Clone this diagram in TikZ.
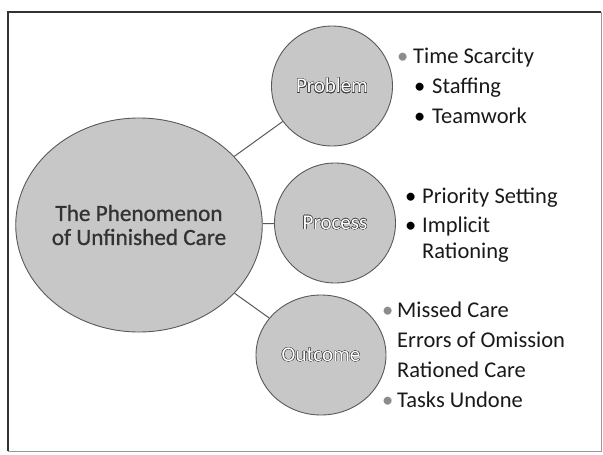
\documentclass[tikz,border=0pt]{standalone}
\usepackage{fontspec}
\setmainfont{Carlito}
\newfontface\hubfont{Carlito}[FakeBold=0.9]
\usepackage{contour}
\contourlength{0.45pt}
\usetikzlibrary{shapes.geometric}

\tikzset{
  bubble/.style={ellipse, draw=black!65, fill=black!22, line width=0.9pt, inner sep=0pt},
  leaf/.style={bubble, minimum width=121pt, minimum height=120pt, font=\fontsize{21}{24}\selectfont},
  link/.style={draw=black!65, line width=1pt},
  item/.style={anchor=base west, inner sep=0pt, text=black!90, font=\fontsize{22.5}{27}\selectfont},
}
\newcommand{\bul}[2][black]{\makebox[#2][l]{\textcolor{#1}{\textbullet}}}
\newcommand{\outl}[1]{\contour{black!75}{\textcolor{white}{#1}}}

\begin{document}
\begin{tikzpicture}[x=1pt,y=-1pt]
  \useasboundingbox (0,0) rectangle (603,455);
  % frame
  \draw[black!40, line width=0.8pt] (601,12) -- (601,451) -- (8,451);
  \draw[black!80, line width=1.6pt] (8,451) -- (8,12) -- (601,12);
  % circles
  \node[bubble, minimum width=228pt, minimum height=214pt, align=center, text=black!80,
        font=\hubfont\fontsize{23.2}{24}\selectfont] (hub) at (139,225) {The Phenomenon\\of Unfinished Care};
  \node[leaf] (prob) at (332,86) {\outl{Problem}};
  \node[leaf] (proc) at (335,223) {\outl{Process}};
  \node[leaf, minimum width=130pt] (outc) at (321,355) {\outl{Outcome}};
  % connectors
  \draw[link] (hub) -- (prob);
  \draw[link] (hub) -- (proc);
  \draw[link] (hub) -- (outc);
  % problem list
  \node[item] (t1) at (397,63) {\bul[black!45]{16pt}Time Scarcity};
  \node[item] (t2) at (414,93) {\bul{18pt}Staffing};
  \node[item] (t3) at (414,123) {\bul{18pt}Teamwork};
  % process list
  \node[item] (s1) at (405,203) {\bul{17pt}Priority Setting};
  \node[item] (s2) at (405,232) {\bul{17pt}Implicit};
  \node[item] (s3) at (422,258) {Rationing};
  % outcome list
  \node[item] (o1) at (382,317) {\bul[black!45]{15pt}Missed Care};
  \node[item] (o2) at (397,347) {Errors of Omission};
  \node[item] (o3) at (397,377) {Rationed Care};
  \node[item] (o4) at (382,407) {\bul[black!45]{15pt}Tasks Undone};
\end{tikzpicture}
\end{document}
